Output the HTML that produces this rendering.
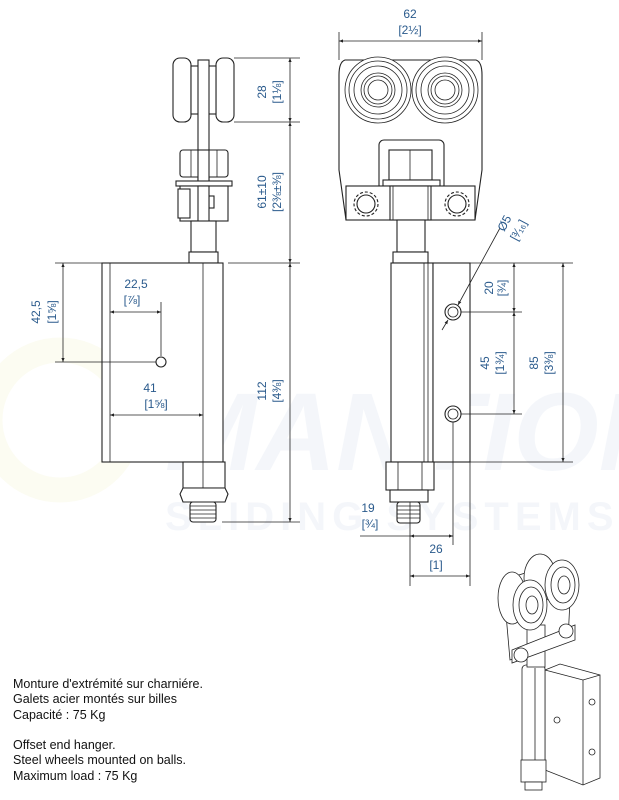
<!DOCTYPE html>
<html><head><meta charset="utf-8"><style>
html,body{margin:0;padding:0;background:#fff;}
svg{display:block;}
.t{font-family:"Liberation Sans",sans-serif;fill:#2a5a8c;font-size:12px;}
.d{stroke:#222;stroke-width:0.8;fill:none;}
.o{stroke:#222;stroke-width:1.1;fill:#fff;}
.n{stroke:#222;stroke-width:0.8;fill:none;}
.p{font-family:"Liberation Sans",sans-serif;font-size:12.5px;fill:#111;}
</style></head><body>
<svg width="619" height="800" viewBox="0 0 619 800" xmlns="http://www.w3.org/2000/svg">
<defs>
<marker id="a" viewBox="0 0 10 10" refX="10" refY="5" markerWidth="7" markerHeight="5" orient="auto-start-reverse"><path d="M0,1 L10,5 L0,9 z" fill="#222"/></marker>
</defs>
<!-- watermark -->
<g opacity="0.05" font-family="Liberation Sans,sans-serif" font-weight="bold" fill="#3a6ab0">
<circle cx="60" cy="420" r="70" fill="none" stroke="#c8c800" stroke-width="25"/>
<text x="165" y="470" font-size="110" font-style="italic">MANTION</text>
<text x="165" y="530" font-size="40" letter-spacing="6">SLIDING SYSTEMS</text>
</g>

<!-- LEFT VIEW -->
<rect class="o" x="173" y="58" width="18" height="64" rx="7"/>
<rect class="o" x="216" y="58" width="18" height="64" rx="7"/>
<rect class="o" x="191" y="66" width="25" height="48"/>
<rect class="o" x="198" y="60" width="11" height="165"/>
<rect class="o" x="180" y="150" width="48" height="27" rx="3"/>
<line class="n" x1="191" y1="150" x2="191" y2="177"/><line class="n" x1="217" y1="150" x2="217" y2="177"/>
<rect class="o" x="198" y="150" width="11" height="75"/>
<rect class="o" x="176" y="181" width="56" height="5"/>
<rect class="o" x="180" y="186" width="48" height="35"/>
<rect class="o" x="178" y="189" width="12" height="29"/>
<rect class="o" x="209" y="196" width="5" height="12"/>
<rect class="o" x="198" y="186" width="11" height="39"/>
<rect class="o" x="191" y="221" width="25" height="31"/>
<rect class="o" x="189" y="252" width="29" height="11"/>
<rect class="o" x="102" y="263" width="121" height="199"/>
<line class="n" x1="110" y1="263" x2="110" y2="462"/>
<line class="n" x1="203" y1="263" x2="203" y2="462"/>
<circle class="o" cx="161" cy="362" r="5"/>
<rect class="o" x="183" y="462" width="42" height="26"/>
<line class="n" x1="203" y1="462" x2="203" y2="488"/>
<path class="o" d="M183,488 L225,488 L228,494 L225,502 L183,502 L180,494 z"/>
<rect class="o" x="190" y="502" width="26" height="20" rx="3"/>
<g class="n"><line x1="190" y1="506" x2="216" y2="506"/><line x1="190" y1="510" x2="216" y2="510"/><line x1="190" y1="514" x2="216" y2="514"/><line x1="190" y1="518" x2="216" y2="518"/></g>

<!-- left dims -->
<g class="d">
<line x1="234" y1="58" x2="300" y2="58"/><line x1="234" y1="122" x2="300" y2="122"/>
<line x1="228" y1="263" x2="300" y2="263"/><line x1="55" y1="263" x2="102" y2="263"/>
<line x1="222" y1="522" x2="300" y2="522"/>
<line x1="290" y1="58" x2="290" y2="122" marker-start="url(#a)" marker-end="url(#a)"/>
<line x1="290" y1="122" x2="290" y2="263" marker-start="url(#a)" marker-end="url(#a)"/>
<line x1="290" y1="263" x2="290" y2="522" marker-start="url(#a)" marker-end="url(#a)"/>
<line x1="55" y1="362" x2="156" y2="362"/>
<line x1="63" y1="263" x2="63" y2="362" marker-start="url(#a)" marker-end="url(#a)"/>
<line x1="161" y1="302" x2="161" y2="356"/>
<line x1="110" y1="312" x2="161" y2="312" marker-start="url(#a)" marker-end="url(#a)"/>
<line x1="110" y1="415" x2="203" y2="415" marker-start="url(#a)" marker-end="url(#a)"/>
</g>
<text class="t" transform="translate(266,92) rotate(-90)" text-anchor="middle">28</text>
<text class="t" transform="translate(281,92) rotate(-90)" text-anchor="middle">[1⅛]</text>
<text class="t" transform="translate(266,192) rotate(-90)" text-anchor="middle">61±10</text>
<text class="t" transform="translate(281,192) rotate(-90)" text-anchor="middle">[2⅜±⅜]</text>
<text class="t" transform="translate(266,391) rotate(-90)" text-anchor="middle">112</text>
<text class="t" transform="translate(281,391) rotate(-90)" text-anchor="middle">[4⅜]</text>
<text class="t" transform="translate(40,312) rotate(-90)" text-anchor="middle">42,5</text>
<text class="t" transform="translate(56,312) rotate(-90)" text-anchor="middle">[1⅝]</text>
<text class="t" x="136" y="288" text-anchor="middle">22,5</text>
<text class="t" x="132" y="304" text-anchor="middle">[⅞]</text>
<text class="t" x="150" y="392" text-anchor="middle">41</text>
<text class="t" x="156" y="408" text-anchor="middle">[1⅝]</text>

<!-- RIGHT VIEW -->
<path class="o" d="M345,60 L476,60 Q482,62 482,75 L482,170 L475,220 L346,220 L339,170 L339,75 Q339,62 345,60 z"/>
<g class="n">
<circle cx="378" cy="90" r="33" fill="#fff"/><circle cx="378" cy="90" r="29"/><circle cx="378" cy="90" r="24"/><circle cx="378" cy="90" r="17"/><circle cx="378" cy="90" r="14"/><circle cx="378" cy="90" r="10"/>
<circle cx="445" cy="90" r="33" fill="#fff"/><circle cx="445" cy="90" r="29"/><circle cx="445" cy="90" r="24"/><circle cx="445" cy="90" r="17"/><circle cx="445" cy="90" r="14"/><circle cx="445" cy="90" r="10"/>
</g>
<rect class="o" x="379" y="140" width="65" height="50" rx="5"/>
<rect class="o" x="389" y="150" width="43" height="30"/>
<line class="n" x1="410" y1="150" x2="410" y2="180"/>
<rect class="o" x="383" y="180" width="57" height="6"/>
<rect class="o" x="346" y="186" width="129" height="34"/>
<rect class="o" x="390" y="186" width="41" height="34"/>
<line class="n" x1="393" y1="186" x2="393" y2="220"/><line class="n" x1="428" y1="186" x2="428" y2="220"/>
<circle class="o" cx="366" cy="204" r="12" stroke-dasharray="3,2"/><circle class="o" cx="366" cy="204" r="9"/>
<circle class="o" cx="457" cy="204" r="12" stroke-dasharray="3,2"/><circle class="o" cx="457" cy="204" r="9"/>
<rect class="o" x="397" y="220" width="28" height="32"/>
<rect class="o" x="393" y="252" width="35" height="11"/>
<rect class="o" x="391" y="263" width="42" height="199"/>
<line class="n" x1="424" y1="263" x2="424" y2="462"/>
<line class="n" x1="428" y1="263" x2="428" y2="462"/>
<rect class="o" x="433" y="263" width="37" height="199"/>
<circle class="o" cx="453" cy="312" r="8"/><circle class="n" cx="453" cy="312" r="5"/>
<circle class="o" cx="453" cy="414" r="8"/><circle class="n" cx="453" cy="414" r="5"/>
<rect class="o" x="386" y="462" width="48" height="28"/>
<line class="n" x1="398" y1="462" x2="398" y2="490"/><line class="n" x1="422" y1="462" x2="422" y2="490"/>
<rect class="o" x="390" y="490" width="38" height="12"/>
<rect class="o" x="397" y="502" width="23" height="21" rx="3"/>
<g class="n"><line x1="397" y1="506" x2="420" y2="506"/><line x1="397" y1="510" x2="420" y2="510"/><line x1="397" y1="514" x2="420" y2="514"/><line x1="397" y1="518" x2="420" y2="518"/></g>

<!-- right dims -->
<g class="d">
<line x1="339" y1="32" x2="339" y2="60"/><line x1="482" y1="32" x2="482" y2="60"/>
<line x1="339" y1="41" x2="482" y2="41" marker-start="url(#a)" marker-end="url(#a)"/>
<line x1="470" y1="263" x2="573" y2="263"/>
<line x1="461" y1="312" x2="522" y2="312"/>
<line x1="461" y1="414" x2="522" y2="414"/>
<line x1="470" y1="462" x2="573" y2="462"/>
<line x1="514" y1="263" x2="514" y2="312" marker-start="url(#a)" marker-end="url(#a)"/>
<line x1="514" y1="312" x2="514" y2="414" marker-start="url(#a)" marker-end="url(#a)"/>
<line x1="563" y1="263" x2="563" y2="462" marker-start="url(#a)" marker-end="url(#a)"/>
<line x1="500" y1="228" x2="458" y2="305" marker-end="url(#a)"/>
<line x1="442" y1="330" x2="448" y2="320" marker-end="url(#a)"/>
<line x1="453" y1="422" x2="453" y2="545"/>
<line x1="410" y1="502" x2="410" y2="586"/>
<line x1="470" y1="462" x2="470" y2="586"/>
<line x1="360" y1="536" x2="453" y2="536"/>
<line x1="410" y1="536" x2="453" y2="536" marker-start="url(#a)" marker-end="url(#a)"/>
<line x1="410" y1="576" x2="470" y2="576" marker-start="url(#a)" marker-end="url(#a)"/>
</g>
<text class="t" x="410" y="18" text-anchor="middle">62</text>
<text class="t" x="410" y="34" text-anchor="middle">[2½]</text>
<text class="t" transform="translate(508,225) rotate(-62)" text-anchor="middle">Ø5</text>
<text class="t" transform="translate(522,232) rotate(-62)" text-anchor="middle" font-size="11">[³⁄₁₆]</text>
<text class="t" transform="translate(493,288) rotate(-90)" text-anchor="middle">20</text>
<text class="t" transform="translate(506,288) rotate(-90)" text-anchor="middle" font-size="11">[¾]</text>
<text class="t" transform="translate(489,363) rotate(-90)" text-anchor="middle">45</text>
<text class="t" transform="translate(504,363) rotate(-90)" text-anchor="middle">[1¾]</text>
<text class="t" transform="translate(538,363) rotate(-90)" text-anchor="middle">85</text>
<text class="t" transform="translate(553,363) rotate(-90)" text-anchor="middle">[3⅜]</text>
<text class="t" x="368" y="512" text-anchor="middle">19</text>
<text class="t" x="370" y="528" text-anchor="middle">[¾]</text>
<text class="t" x="436" y="553" text-anchor="middle">26</text>
<text class="t" x="436" y="569" text-anchor="middle">[1]</text>

<!-- ISO view -->
<g class="n" stroke-width="1">
<path d="M545,670 L583,680 L600,675 L600,778 L583,785 L545,770 z" fill="#fff"/>
<path d="M583,680 L583,785" />
<path d="M545,670 L560,664 L600,675"/>
<circle cx="592" cy="702" r="3"/><circle cx="592" cy="752" r="3"/><circle cx="557" cy="720" r="3"/>
<rect x="522" y="665" width="23" height="102" rx="4" fill="#fff"/>
<line x1="535" y1="668" x2="535" y2="765"/>
<rect x="521" y="760" width="25" height="22" fill="#fff"/>
<rect x="525" y="782" width="17" height="8" fill="#fff"/>
<path d="M503,580 L560,562 L570,600 L568,640 L510,660 z" fill="#fff"/>
<rect x="527" y="625" width="18" height="42" fill="#fff"/>
<path d="M512,650 L575,625 L575,640 L512,663 z" fill="#fff"/>
<circle cx="521" cy="655" r="7" fill="#fff"/><circle cx="566" cy="631" r="7" fill="#fff"/>
<ellipse cx="512" cy="598" rx="14" ry="26" fill="#fff"/>
<ellipse cx="540" cy="578" rx="16" ry="24" fill="#fff"/>
<ellipse cx="530" cy="605" rx="17" ry="25" fill="#fff"/><ellipse cx="531" cy="605" rx="12" ry="18"/><ellipse cx="532" cy="605" rx="6" ry="9"/>
<ellipse cx="562" cy="585" rx="17" ry="25" fill="#fff"/><ellipse cx="563" cy="585" rx="12" ry="18"/><ellipse cx="564" cy="585" rx="6" ry="9"/>
</g>

<!-- description -->
<text class="p" x="13" y="688">Monture d'extrémité sur charniére.</text>
<text class="p" x="13" y="703">Galets acier montés sur billes</text>
<text class="p" x="13" y="719">Capacité : 75 Kg</text>
<text class="p" x="13" y="749">Offset end hanger.</text>
<text class="p" x="13" y="764">Steel wheels mounted on balls.</text>
<text class="p" x="13" y="780">Maximum load : 75 Kg</text>
</svg>
</body></html>
